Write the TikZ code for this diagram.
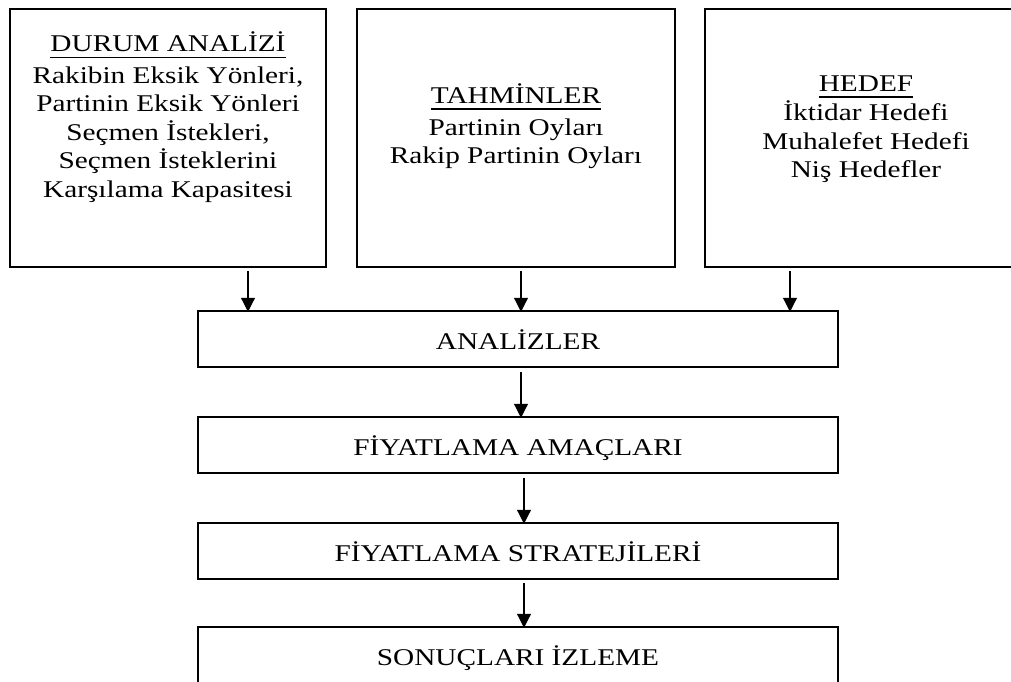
\documentclass[tikz,border=0pt]{standalone}
\usepackage{fontspec}
\setmainfont{Liberation Serif}[FakeStretch=1.22]
\usetikzlibrary{arrows.meta}
% heading with a Word-style underline
\newcommand\hdrline[1]{\setbox0\hbox{#1}\rlap{\rule[-6.5pt]{\wd0}{1.3pt}}\box0}
% body font with fixed line pitch
\newcommand\boxfont{\fontsize{24}{28.5}\selectfont\lineskiplimit=-60pt\relax}
\begin{document}
\begin{tikzpicture}[x=1pt,y=-1pt,
  topbox/.style={draw,line width=2.5pt,inner sep=0pt,minimum height=258pt},
  stepbox/.style={draw,line width=2.5pt,inner sep=0pt,minimum width=640pt,
    minimum height=56pt,text height=21pt,text depth=0pt,font=\boxfont},
  txt/.style={align=center,inner sep=0pt,font=\boxfont},
  arr/.style={line width=1.2pt,-{Triangle[width=14pt,length=14pt]}}]
\useasboundingbox (0,0) rectangle (1011,682);
\clip (0,0) rectangle (1011,682);

% upper row of frames
\node[topbox,minimum width=316pt] (b1) at (168,138) {};
\node[topbox,minimum width=318pt] (b2) at (516,138) {};
\node[topbox,minimum width=320pt] (b3) at (865,138) {};

\node[txt] (t1) at (168,117) {\hdrline{DURUM ANALİZİ}\\[3.5pt]Rakibin Eksik Yönleri,\\Partinin Eksik Yönleri\\Seçmen İstekleri,\\Seçmen İsteklerini\\Karşılama Kapasitesi};
\node[txt] (t2) at (516,126) {\hdrline{TAHMİNLER}\\[3.5pt]Partinin Oyları\\Rakip Partinin Oyları};
\node[txt] (t3) at (866,129) {\hdrline{HEDEF}\\[1pt]İktidar Hedefi\\Muhalefet Hedefi\\Niş Hedefler};

% process chain
\node[stepbox] (an) at (518,339) {ANALİZLER};
\node[stepbox] (am) at (518,445) {FİYATLAMA AMAÇLARI};
\node[stepbox] (st) at (518,551) {FİYATLAMA STRATEJİLERİ};
\node[stepbox] (iz) at (518,655) {SONUÇLARI İZLEME};

% arrow columns
\coordinate (xa) at (248,0);
\coordinate (xb) at (521,0);
\coordinate (xc) at (790,0);
\coordinate (xd) at (524,0);

\draw[arr] ([yshift=-3pt]b1.south -| xa) -- ([yshift=-2pt]an.north -| xa);
\draw[arr] ([yshift=-3pt]b2.south -| xb) -- ([yshift=-2pt]an.north -| xb);
\draw[arr] ([yshift=-3pt]b3.south -| xc) -- ([yshift=-2pt]an.north -| xc);
\draw[arr] ([yshift=-4pt]an.south -| xb) -- ([yshift=-2pt]am.north -| xb);
\draw[arr] ([yshift=-4pt]am.south -| xd) -- ([yshift=-2pt]st.north -| xd);
\draw[arr] ([yshift=-3pt]st.south -| xd) -- ([yshift=-2pt]iz.north -| xd);
\end{tikzpicture}
\end{document}
